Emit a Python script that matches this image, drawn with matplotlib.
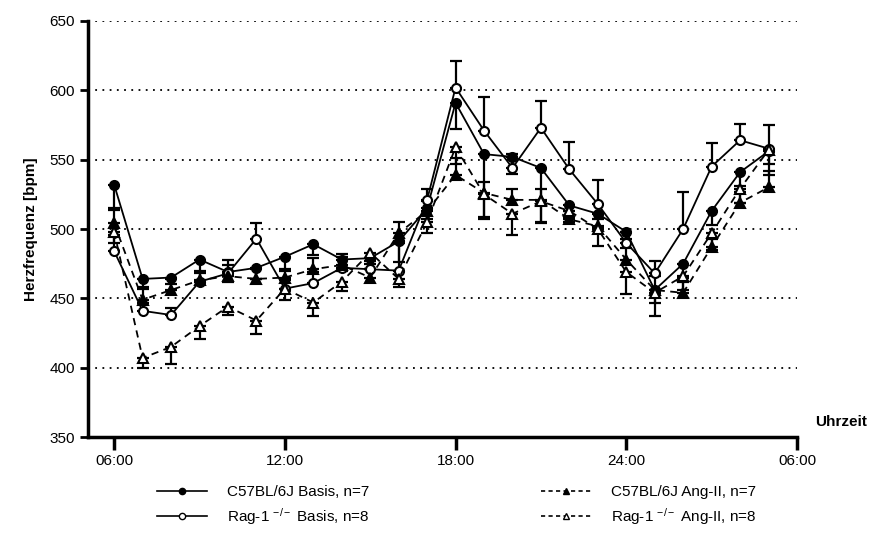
import numpy as np
import matplotlib
matplotlib.use("Agg")
import matplotlib.pyplot as plt

plt.rcParams['font.family'] = ['Liberation Sans', 'DejaVu Sans']
plt.rcParams['mathtext.fontset'] = 'custom'
plt.rcParams['mathtext.rm'] = 'Liberation Sans'
plt.rcParams['mathtext.it'] = 'Liberation Sans'

# hours 6..29 (06:00 to 05:00 next day)
hours = np.arange(6, 30)

c57_basis = [532, 464, 465, 478, 469, 472, 480, 489, 478, 479, 491, 515,
             591, 554, 552, 544, 517, 511, 498, 456, 475, 513, 541, 556]
rag_basis = [484, 441, 438, 462, 468, 493, 457, 461, 472, 471, 470, 521,
             602, 571, 544, 573, 543, 518, 490, 468, 500, 545, 564, 558]
c57_ang = [504, 449, 456, 463, 466, 464, 465, 471, 474, 465, 497, 513,
           539, 526, 521, 521, 507, 502, 478, 456, 454, 487, 519, 530]
rag_ang = [498, 407, 415, 430, 444, 434, 457, 447, 462, 483, 464, 505,
           559, 525, 511, 520, 513, 500, 469, 454, 466, 497, 529, 557]

# one-sided SEM
c57_basis_err = [17, 6, 5, 8, 7, 8, 10, 8, 8, 8, 15, 8,
                 19, 45, 12, 40, 8, 10, 5, 9, 10, 10, 10, 17]
rag_basis_err = [12, 6, 5, 6, 10, 11, 6, 8, 8, 6, 20, 8,
                 19, 24, 10, 19, 20, 17, 8, 9, 27, 17, 12, 17]
c57_ang_err = [10, 8, 8, 6, 8, 7, 6, 8, 8, 6, 8, 7,
               12, 8, 8, 8, 6, 5, 8, 10, 8, 6, 8, 12]
rag_ang_err = [8, 7, 12, 9, 6, 10, 8, 10, 7, 8, 6, 8,
               12, 18, 15, 15, 8, 12, 16, 17, 10, 12, 10, 10]

xticks = [6, 12, 18, 24, 30]
xticklabels = ['06:00', '12:00', '18:00', '24:00', '06:00']
yticks = [350, 400, 450, 500, 550, 600, 650]

fig = plt.figure(figsize=(8.78, 5.34), dpi=100)
ax = fig.add_axes([0.1002, 0.1816, 0.8075, 0.7791])

for y in yticks[1:]:
    ax.axhline(y, color='black', lw=1.3, ls=(0, (1, 3)), zorder=0)

zeros = [0] * len(hours)
series = [
    (c57_basis, [c57_basis_err, zeros], '-', 'o', 'black', 'C57BL/6J Basis, n=7'),
    (rag_basis, [zeros, rag_basis_err], '-', 'o', 'white', r'Rag-1 $^{-/-}$ Basis, n=8'),
    (c57_ang, [zeros, c57_ang_err], '--', '^', 'black', 'C57BL/6J Ang-II, n=7'),
    (rag_ang, [rag_ang_err, zeros], '--', '^', 'white', r'Rag-1 $^{-/-}$ Ang-II, n=8'),
]
for vals, err, ls, mk, fc, lab in series:
    ax.errorbar(hours, vals, yerr=err, fmt='none', ecolor='black',
                elinewidth=1.6, capsize=4, capthick=1.6, zorder=2)
    ax.plot(hours, vals, ls=ls, marker=mk, color='black', mfc=fc,
            mec='black', mew=1.5, ms=6.5, lw=1.3, zorder=3,
            dashes=(4, 3) if ls == '--' else (None, None))

ax.set_xlim(5.08, 30)
ax.set_ylim(350, 650)
ax.set_xticks(xticks)
ax.set_xticklabels(xticklabels, fontsize=11)
ax.set_yticks(yticks)
ax.tick_params(axis='y', labelsize=11, width=2, length=6, direction='out')
ax.tick_params(axis='x', width=2.5, length=9, direction='out')
for s in ['top', 'right']:
    ax.spines[s].set_visible(False)
for s in ['left', 'bottom']:
    ax.spines[s].set_linewidth(2.5)

ax.set_ylabel('Herzfrequenz [bpm]', fontsize=11, fontweight='bold', labelpad=8)
fig.text(0.958, 0.21, 'Uhrzeit', fontsize=11, fontweight='bold',
         ha='center', va='center')

leg_handles = []
for vals, err, ls, mk, fc, lab in series:
    lh, = ax.plot([], [], ls=ls, marker=mk, color='black', mfc=fc, mec='black',
                  mew=1, ms=4.5, lw=1.2, label=lab,
                  dashes=(2.5, 2) if ls == '--' else (None, None))
    leg_handles.append(lh)

fig.legend(handles=leg_handles, labels=[s[5] for s in series], ncol=2,
           loc='lower left', bbox_to_anchor=(0.163, -0.012), frameon=False,
           handlelength=3.3, handletextpad=1.3,
           columnspacing=11.2, labelspacing=0.45,
           prop={'family': ['Liberation Sans'], 'size': 11})

fig.savefig('out.png', dpi=100)
